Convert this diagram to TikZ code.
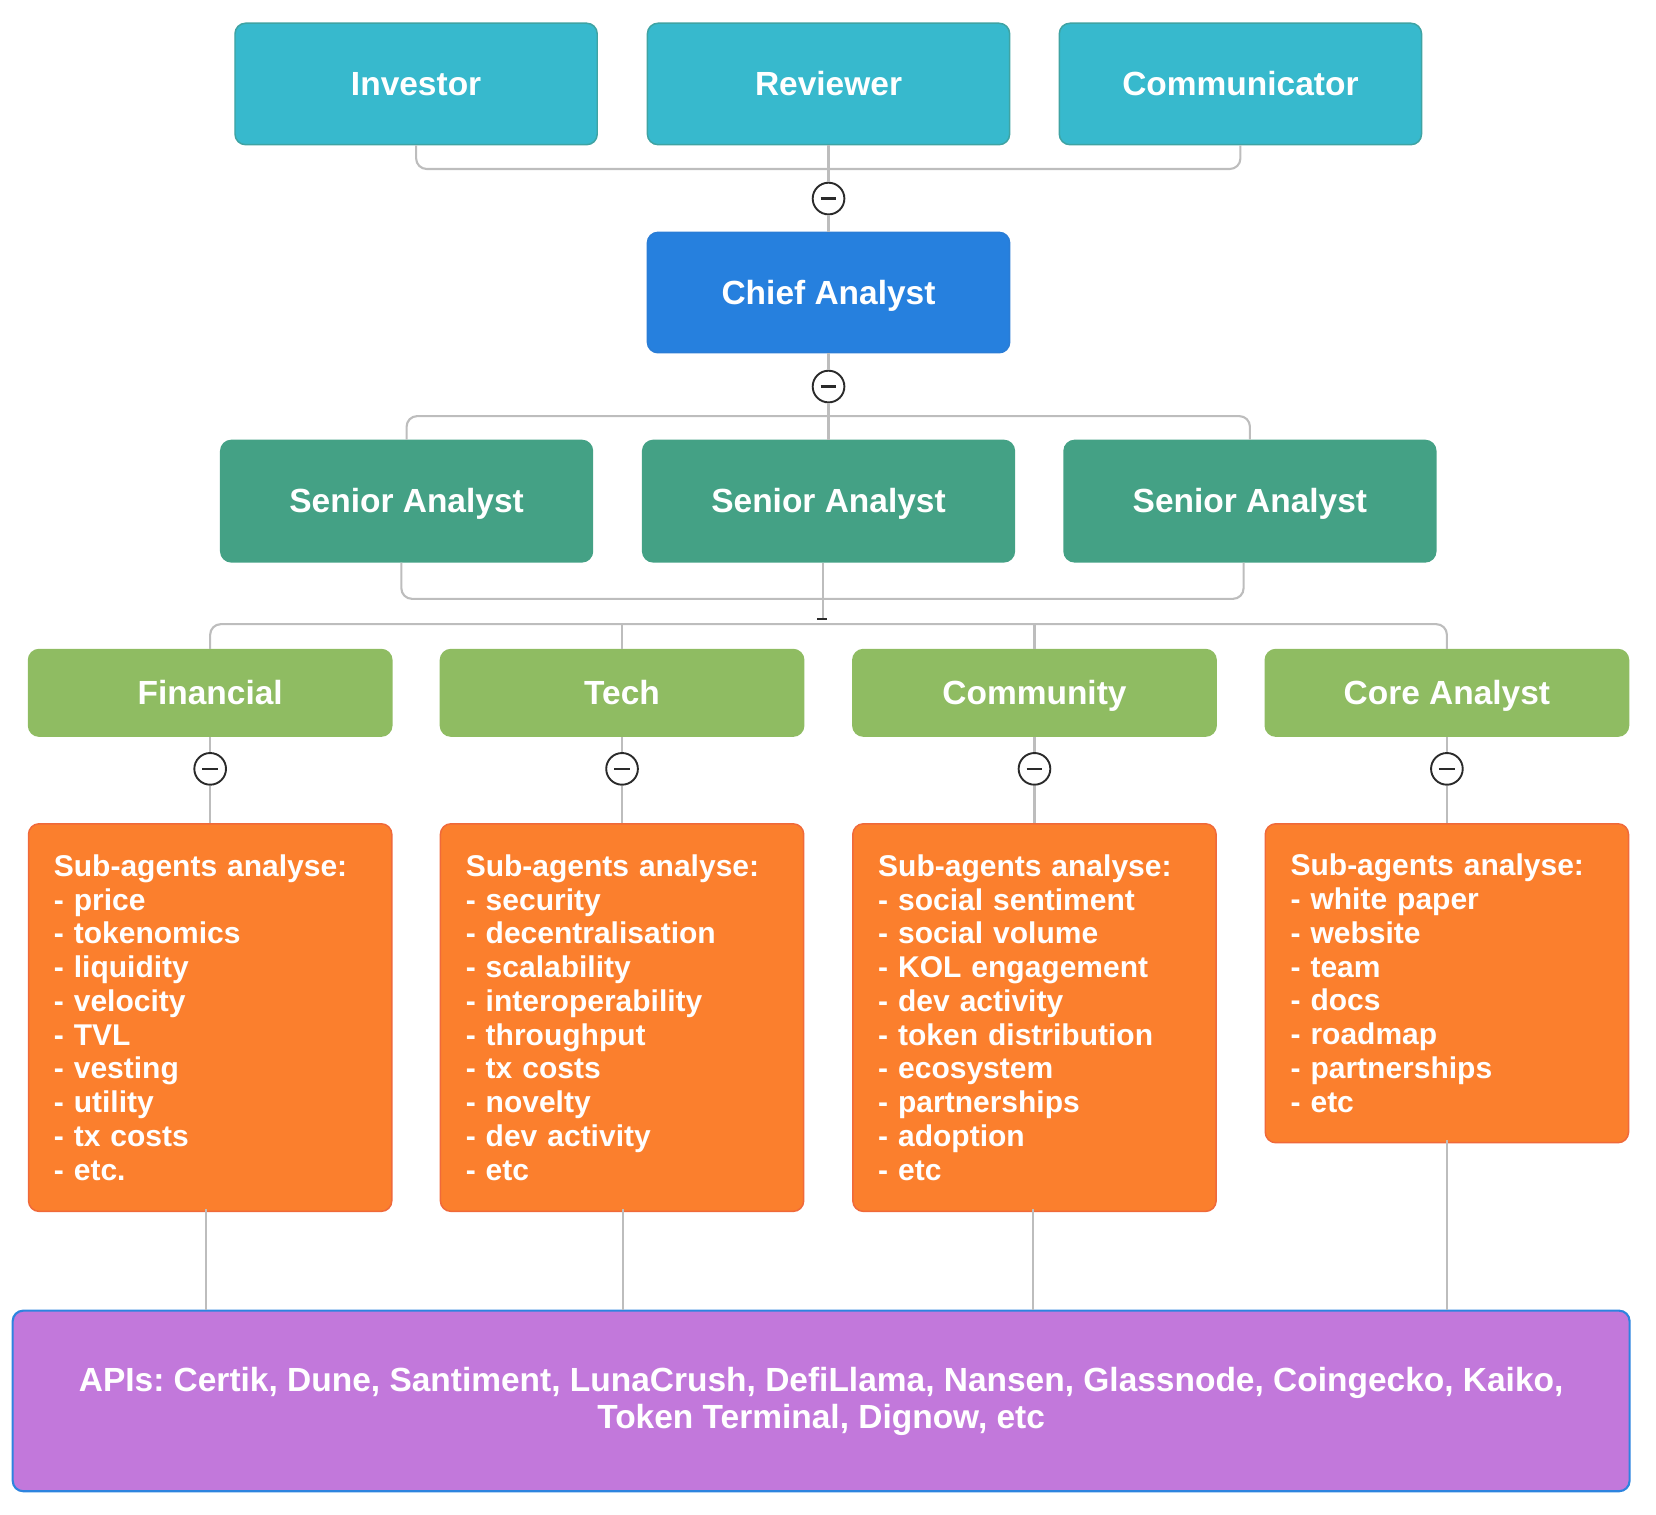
\documentclass[tikz,border=0pt]{standalone}
\usepackage{fontspec}
\setmainfont{Liberation Sans}
\frenchspacing
\definecolor{tealfill}{HTML}{37B9CD}
\definecolor{tealdraw}{HTML}{3FA3A3}
\definecolor{bluefill}{HTML}{2680DE}
\definecolor{bluedraw}{HTML}{2A7DD6}
\definecolor{dgreen}{HTML}{44A185}
\definecolor{lgreen}{HTML}{8FBC62}
\definecolor{orangefill}{HTML}{FB7F2D}
\definecolor{orangedraw}{HTML}{F0693A}
\definecolor{purplefill}{HTML}{C278DB}
\definecolor{purpledraw}{HTML}{2D84DF}
\definecolor{linegray}{HTML}{BDBDBD}
\definecolor{togdark}{HTML}{2A2A2A}
\begin{document}
\begin{tikzpicture}[x=1pt,y=-1pt,
  box/.style={rounded corners=10pt, text=white, line width=1.4pt,
    font=\bfseries\fontsize{31.7}{36}\selectfont, inner sep=0pt},
  onebox/.style={box, text height=28pt, text depth=6pt},
  topbox/.style={onebox, fill=tealfill, draw=tealdraw, minimum width=343pt, minimum height=115pt},
  chiefbox/.style={onebox, fill=bluefill, draw=bluedraw, minimum width=343pt, minimum height=114pt},
  seniorbox/.style={onebox, fill=dgreen, draw=dgreen, minimum width=352pt, minimum height=115pt},
  catbox/.style={onebox, fill=lgreen, draw=lgreen, minimum width=344pt, minimum height=82pt},
  subbox/.style={box, fill=orangefill, draw=orangedraw, align=left, text width=296pt,
    inner xsep=24pt, inner ysep=0pt, font=\bfseries\fontsize{28.4}{32}\selectfont},
  apibox/.style={box, align=center, fill=purplefill, draw=purpledraw, line width=2pt, minimum width=1531pt,
    minimum height=171pt, font=\bfseries\fontsize{31.7}{35}\selectfont},
  conn/.style={draw=linegray, line width=2pt, rounded corners=10pt},
  tog/.style={circle, draw=togdark, fill=white, line width=1.8pt, minimum size=30pt, inner sep=0pt},
  minus/.style={draw=togdark, line width=2.4pt}
]
\useasboundingbox (0,0) rectangle (1568,1434);

% top row
\node[topbox] (inv) at (394,79.5) {Investor};
\node[topbox] (rev) at (784.5,79.5) {Reviewer};
\node[topbox] (com) at (1174.5,79.5) {Communicator};

\node[chiefbox] (chief) at (784.5,277) {Chief Analyst};

\node[seniorbox] (s1) at (385,474.5) {Senior Analyst};
\node[seniorbox] (s2) at (784.5,474.5) {Senior Analyst};
\node[seniorbox] (s3) at (1183.5,474.5) {Senior Analyst};

\node[catbox] (fin) at (199,656) {Financial};
\node[catbox] (tech) at (589,656) {Tech};
\node[catbox] (comm) at (979.5,656) {Community};
\node[catbox] (core) at (1370,656) {Core Analyst};

\node[subbox, minimum height=367pt] (o1) at (199,963.5) {Sub-agents analyse:\\- price\\- tokenomics\\- liquidity\\- velocity\\- TVL\\- vesting\\- utility\\- tx costs\\- etc.};
\node[subbox, minimum height=367pt] (o2) at (589,963.5) {Sub-agents analyse:\\- security\\- decentralisation\\- scalability\\- interoperability\\- throughput\\- tx costs\\- novelty\\- dev activity\\- etc};
\node[subbox, minimum height=367pt] (o3) at (979.5,963.5) {Sub-agents analyse:\\- social sentiment\\- social volume\\- KOL engagement\\- dev activity\\- token distribution\\- ecosystem\\- partnerships\\- adoption\\- etc};
\node[subbox, minimum height=302pt] (o4) at (1370,931) {Sub-agents analyse:\\- white paper\\- website\\- team\\- docs\\- roadmap\\- partnerships\\- etc};

\node[apibox] (api) at (777.5,1326.5) {APIs: Certik, Dune, Santiment, LunaCrush, DefiLlama, Nansen, Glassnode, Coingecko, Kaiko,\\Token Terminal, Dignow, etc};

% junction coordinates
\coordinate (j1) at (784.5,160);
\coordinate (j2) at (784.5,394);
\coordinate (j3) at (779,567);
\coordinate (j4) at (779,591);
\coordinate (j3b) at (779,586);

% toggles
\node[tog] (t1) at (784.5,188) {};
\node[tog] (t2) at (784.5,366) {};
\node[tog] (tf) at (199,728) {};
\node[tog] (tt) at (589,728) {};
\node[tog] (tc) at (979.5,728) {};
\node[tog] (tk) at (1370,728) {};

% connectors
\draw[conn] (inv.south) |- (j1) -| (com.south);
\draw[conn] (rev.south) -- (t1.north);
\draw[conn] (t1.south) -- (chief.north);
\draw[conn] (chief.south) -- (t2.north);
\draw[conn] (t2.south) -- (s2.north);
\draw[conn] (s1.north) |- (j2) -| (s3.north);
\draw[conn] ([xshift=-5pt]s1.south) |- (j3) -| ([xshift=-6pt]s3.south);
\draw[conn] ([xshift=-5.5pt]s2.south) -- (j3b);
\draw[conn] (fin.north) |- (j4) -| (core.north);
\draw[conn] (tech.north) -- (tech.north |- j4);
\draw[conn] (comm.north) -- (comm.north |- j4);
\draw[line width=2.6pt, draw=togdark] ([xshift=-5pt]j3b) -- ([xshift=4pt]j3b);

\foreach \c/\t/\o in {fin/tf/o1, tech/tt/o2, comm/tc/o3, core/tk/o4}{
  \draw[conn] (\c.south) -- (\t.north);
  \draw[conn] (\t.south) -- (\o.north);
}
\draw[conn] ([xshift=-4pt,yshift=3pt]o1.south) -- ([xshift=-4pt]o1.south |- api.north);
\draw[conn] ([xshift=1pt,yshift=3pt]o2.south) -- ([xshift=1pt]o2.south |- api.north);
\draw[conn] ([xshift=-1.5pt,yshift=3pt]o3.south) -- ([xshift=-1.5pt]o3.south |- api.north);
\draw[conn] ([yshift=3pt]o4.south) -- (o4.south |- api.north);

% minus signs
\foreach \t in {t1,t2,tf,tt,tc,tk}{
  \draw[minus] ([xshift=-7.5pt]\t.center) -- ([xshift=7.5pt]\t.center);
}
\end{tikzpicture}
\end{document}
